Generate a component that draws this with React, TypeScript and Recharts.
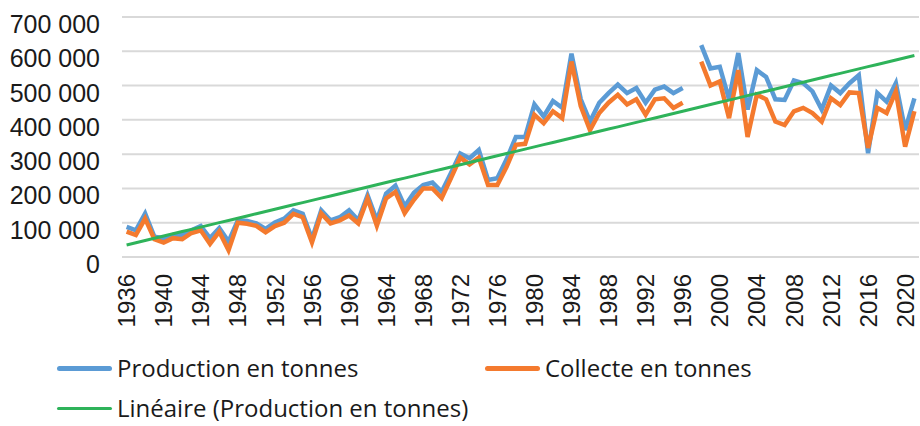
import { LineChart, Line, XAxis, YAxis, CartesianGrid } from "recharts";

const years = [
  "1936", "1937", "1938", "1939", "1940", "1941", "1942", "1943", "1944", "1945",
  "1946", "1947", "1948", "1949", "1950", "1951", "1952", "1953", "1954", "1955",
  "1956", "1957", "1958", "1959", "1960", "1961", "1962", "1963", "1964", "1965",
  "1966", "1967", "1968", "1969", "1970", "1971", "1972", "1973", "1974", "1975",
  "1976", "1977", "1978", "1979", "1980", "1981", "1982", "1983", "1984", "1985",
  "1986", "1987", "1988", "1989", "1990", "1991", "1992", "1993", "1994", "1995",
  "1996", "1997", "1998", "1999", "2000", "2001", "2002", "2003", "2004", "2005",
  "2006", "2007", "2008", "2009", "2010", "2011", "2012", "2013", "2014", "2015",
  "2016", "2017", "2018", "2019", "2020", "2021",
];

// tonnes
const production = [
  88000, 78000, 127000, 59000, 55000, 64000, 64000, 78000, 90000, 55000,
  84000, 45000, 107000, 105000, 98000, 82000, 101000, 112000, 136000, 126000,
  53000, 136000, 107000, 116000, 136000, 107000, 180000, 107000, 185000, 208000,
  148000, 187000, 210000, 217000, 190000, 245000, 302000, 288000, 312000, 225000,
  230000, 285000, 350000, 350000, 445000, 410000, 455000, 435000, 593000, 460000,
  395000, 450000, 478000, 503000, 478000, 493000, 450000, 488000, 497000, 478000,
  493000, null, 618000, 550000, 555000, 460000, 595000, 430000, 545000, 525000,
  460000, 458000, 515000, 507000, 483000, 430000, 500000, 478000, 507000, 530000,
  303000, 478000, 453000, 507000, 370000, 463000,
];

const collecte = [
  74000, 64000, 112000, 52000, 42000, 55000, 52000, 70000, 78000, 38000,
  74000, 20000, 100000, 97000, 91000, 72000, 90000, 100000, 126000, 116000,
  43000, 127000, 98000, 107000, 121000, 98000, 171000, 91000, 171000, 190000,
  128000, 167000, 200000, 200000, 172000, 230000, 290000, 270000, 290000, 210000,
  210000, 263000, 327000, 330000, 415000, 390000, 425000, 405000, 570000, 440000,
  370000, 420000, 450000, 473000, 445000, 460000, 415000, 460000, 463000, 435000,
  450000, null, 570000, 500000, 512000, 405000, 545000, 350000, 473000, 460000,
  395000, 385000, 425000, 435000, 420000, 395000, 463000, 443000, 480000, 478000,
  318000, 435000, 420000, 483000, 322000, 425000,
];

const yTicks = [0, 100000, 200000, 300000, 400000, 500000, 600000, 700000];

const BLUE = "#5b9bd5";
const ORANGE = "#f47a2e";
const GREEN = "#2eb35a";
const AXIS_FONT = "'Liberation Sans', Arial, sans-serif";
const LEGEND_FONT = "'Open Sans', sans-serif";
const INK = "#1a1a1a";

// least-squares trend over category index, like the spreadsheet's linear trendline
function trend(values: (number | null)[]) {
  const pts = values
    .map((v, i) => [i + 1, v] as [number, number | null])
    .filter((p) => p[1] !== null) as [number, number][];
  const n = pts.length;
  const sx = pts.reduce((a, p) => a + p[0], 0);
  const sy = pts.reduce((a, p) => a + p[1], 0);
  const sxy = pts.reduce((a, p) => a + p[0] * p[1], 0);
  const sxx = pts.reduce((a, p) => a + p[0] * p[0], 0);
  const slope = (n * sxy - sx * sy) / (n * sxx - sx * sx);
  const icpt = (sy - slope * sx) / n;
  return values.map((_, i) => icpt + slope * (i + 1));
}

const trendLine = trend(production);

const data = years.map((y, i) => ({
  year: y,
  production: production[i],
  collecte: collecte[i],
  lineaire: trendLine[i],
}));

const fmt = (v: number) => (v === 0 ? "0" : `${v / 1000} 000`);

const YearTick = (props: any) => {
  const { x, y, payload } = props;
  const ty = y + 15;
  return (
    <text
      x={x}
      y={ty}
      transform={`rotate(-90, ${x}, ${ty})`}
      textAnchor="end"
      dy="0.36em"
      fontSize={24}
      fontFamily={AXIS_FONT}
      fill={INK}
    >
      {payload.value}
    </text>
  );
};

const ValueTick = (props: any) => {
  const { x, y, payload } = props;
  return (
    <text
      x={x}
      y={y + 7}
      textAnchor="end"
      dy="0.36em"
      fontSize={25}
      fontFamily={AXIS_FONT}
      fill={INK}
    >
      {fmt(payload.value)}
    </text>
  );
};

const LegendItem = ({ color, label, left, top, thick }: any) => (
  <div
    style={{
      position: "absolute",
      left,
      top,
      height: 24,
      display: "flex",
      alignItems: "center",
      whiteSpace: "nowrap",
    }}
  >
    <div style={{ width: 55, height: thick, background: color, borderRadius: thick / 2 }} />
    <span
      style={{
        fontSize: 24,
        lineHeight: "24px",
        color: INK,
        marginLeft: 5,
        fontFamily: LEGEND_FONT,
      }}
    >
      {label}
    </span>
  </div>
);

export default function App() {
  return (
    <div
      style={{
        position: "absolute",
        left: 0,
        top: 0,
        width: 920,
        height: 426,
        background: "#fff",
        overflow: "hidden",
      }}
    >
      <LineChart
        width={920}
        height={330}
        data={data}
        margin={{ top: 17, right: 1, bottom: 0, left: 0 }}
      >
        <CartesianGrid vertical={false} stroke="#d9d9d9" strokeWidth={2} />
        <XAxis
          dataKey="year"
          interval={3}
          tickLine={false}
          axisLine={false}
          tickSize={0}
          height={73}
          padding={{ left: 4.6, right: 4.6 }}
          tick={<YearTick />}
        />
        <YAxis
          width={122}
          domain={[0, 700000]}
          ticks={yTicks}
          tickLine={false}
          axisLine={false}
          tickSize={0}
          tickMargin={22}
          tick={<ValueTick />}
        />
        <Line
          dataKey="production"
          stroke={BLUE}
          strokeWidth={4.5}
          dot={false}
          isAnimationActive={false}
        />
        <Line
          dataKey="collecte"
          stroke={ORANGE}
          strokeWidth={4.5}
          dot={false}
          isAnimationActive={false}
        />
        <Line
          dataKey="lineaire"
          stroke={GREEN}
          strokeWidth={3}
          dot={false}
          isAnimationActive={false}
        />
      </LineChart>
      <LegendItem color={BLUE} label="Production en tonnes" left={57} top={356} thick={5} />
      <LegendItem color={ORANGE} label="Collecte en tonnes" left={485} top={356} thick={5} />
      <LegendItem color={GREEN} label="Linéaire (Production en tonnes)" left={57} top={396} thick={3} />
    </div>
  );
}
